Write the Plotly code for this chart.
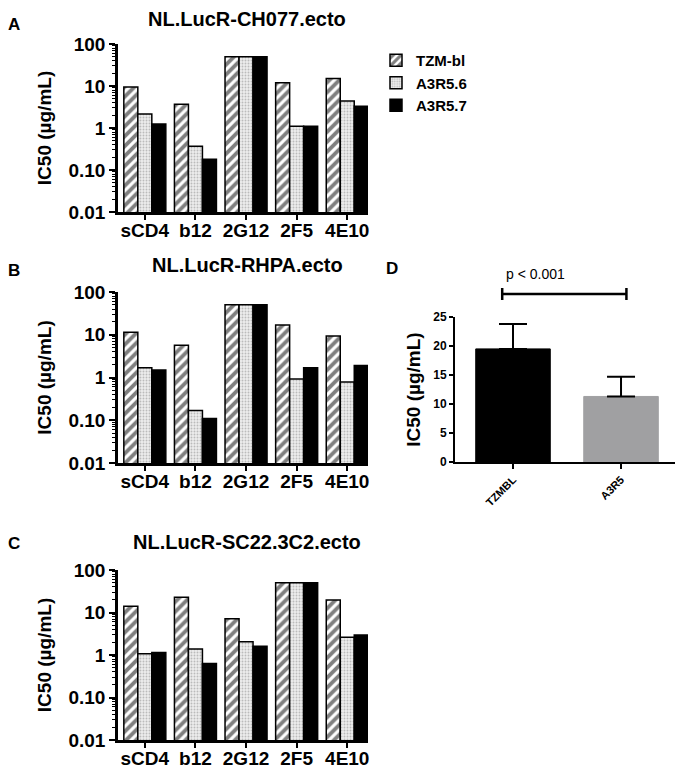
import plotly.graph_objects as go

W, H = 683, 770
OFF = 8  # page body margin in the browser

antibodies = ["sCD4", "b12", "2G12", "2F5", "4E10"]
series = ["TZM-bl", "A3R5.6", "A3R5.7"]

ch077_tzm = [9.5, 3.7, 50, 12, 15]
ch077_a56 = [2.15, 0.37, 50, 1.1, 4.4]
ch077_a57 = [1.25, 0.18, 50, 1.1, 3.3]

rhpa_tzm = [11.5, 5.7, 50, 17, 9.4]
rhpa_a56 = [1.7, 0.17, 50, 0.92, 0.78]
rhpa_a57 = [1.5, 0.11, 50, 1.7, 1.9]

sc22_tzm = [14, 23, 7.1, 50, 19.6]
sc22_a56 = [1.07, 1.38, 2.06, 50, 2.6]
sc22_a57 = [1.15, 0.63, 1.6, 50, 2.95]

log_tickvals = [0.01, 0.1, 1, 10, 100]
log_ticktext = ["0.01", "0.10", "1", "10", "100"]
minor_vals = [k * 10.0 ** e for e in (-2, -1, 0, 1) for k in range(2, 10)]

d_cells = ["TZMBL", "A3R5"]
d_mean = [19.5, 11.3]
d_err = [4.3, 3.4]
d_colors = ["#000000", "#a0a0a2"]

panel_titles = ["NL.LucR-CH077.ecto", "NL.LucR-RHPA.ecto", "NL.LucR-SC22.3C2.ecto"]
panel_letters = ["A", "B", "C", "D"]


def px_x(p):
    return (p - OFF) / W


def px_y(p):
    return 1 - (p - OFF) / H


styles = [
    dict(color="white", pattern=dict(shape="/", fgcolor="black", bgcolor="white", size=7, solidity=0.55)),
    dict(color="#e6e6e6", pattern=dict(shape=".", fgcolor="#8a8a8a", bgcolor="#ececec", size=3, solidity=0.3)),
    dict(color="black"),
]

fig = go.Figure()
panels = [
    (ch077_tzm, ch077_a56, ch077_a57),
    (rhpa_tzm, rhpa_a56, rhpa_a57),
    (sc22_tzm, sc22_a56, sc22_a57),
]
panel_px = [(44, 212), (292, 463), (570, 740)]
title_px = [19, 265, 542]
letter_px = [25, 270, 543]

font_main = "Liberation Sans, Arial, sans-serif"

for i, vals in enumerate(panels):
    ax = "" if i == 0 else str(i + 1)
    for j, v in enumerate(vals):
        fig.add_trace(go.Bar(
            x=antibodies, y=v, name=series[j],
            xaxis="x" + ax, yaxis="y" + ax,
            marker=dict(line=dict(color="black", width=1.5), **styles[j]),
            showlegend=(i == 0),
        ))
    top, bot = panel_px[i]
    fig.update_layout(**{
        "xaxis" + ax: dict(
            domain=[px_x(118), px_x(368)], anchor="y" + ax, range=[-0.53, 4.41],
            showline=True, linecolor="black", linewidth=2.5, ticks="outside",
            ticklen=5, tickwidth=2, tickcolor="black", ticklabelstandoff=-6,
            tickfont=dict(size=19, family=font_main, color="black", weight="bold"),
            showgrid=False, zeroline=False, automargin=False,
        ),
        "yaxis" + ax: dict(
            domain=[px_y(bot), px_y(top)], anchor="x" + ax, type="log", range=[-2, 2],
            tickmode="array", tickvals=log_tickvals, ticktext=log_ticktext,
            showline=True, linecolor="black", linewidth=2.5, ticks="outside",
            ticklen=6, tickwidth=2, tickcolor="black",
            minor=dict(ticks="outside", ticklen=3, tickwidth=1, tickcolor="black",
                       tickmode="array", tickvals=minor_vals, showgrid=False),
            tickfont=dict(size=19, family=font_main, color="black", weight="bold"),
            showgrid=False, zeroline=False, automargin=False,
            title=dict(text="IC50 (µg/mL)", standoff=12,
                       font=dict(size=19, family=font_main, color="black", weight="bold")),
        ),
    })
    fig.add_annotation(text="<b>%s</b>" % panel_titles[i], x=px_x(247), y=px_y(title_px[i]),
                       xref="paper", yref="paper", showarrow=False,
                       font=dict(size=20, family=font_main, color="black"), xanchor="center", yanchor="middle")
    fig.add_annotation(text="<b>%s</b>" % panel_letters[i], x=px_x(14), y=px_y(letter_px[i]),
                       xref="paper", yref="paper", showarrow=False,
                       font=dict(size=17, family=font_main, color="black"), xanchor="center", yanchor="middle")

# Panel D
fig.add_trace(go.Bar(
    x=d_cells, y=d_mean, xaxis="x4", yaxis="y4", showlegend=False,
    marker=dict(color=d_colors, line=dict(color=d_colors, width=1)),
    width=0.69,
    error_y=dict(type="data", symmetric=False, array=d_err, arrayminus=[0, 0],
                 color="black", thickness=2, width=14),
))
fig.update_layout(
    xaxis4=dict(domain=[px_x(455), px_x(676)], anchor="y4", range=[-0.537, 1.509],
                showline=True, linecolor="black", linewidth=2, ticks="outside", ticklen=5,
                tickwidth=2, tickcolor="black", tickangle=-45,
                tickfont=dict(size=11, family=font_main, color="black", weight="bold"),
                showgrid=False, zeroline=False, automargin=False),
    yaxis4=dict(domain=[px_y(462), px_y(317)], anchor="x4", range=[0, 25], dtick=5,
                showline=True, linecolor="black", linewidth=2, ticks="outside", ticklen=4,
                tickwidth=2, tickcolor="black",
                tickfont=dict(size=12, family=font_main, color="black", weight="bold"),
                showgrid=False, zeroline=False, automargin=False,
                title=dict(text="IC50 (µg/mL)", standoff=8,
                           font=dict(size=19, family=font_main, color="black", weight="bold"))),
)
fig.add_annotation(text="<b>D</b>", x=px_x(392), y=px_y(268), xref="paper", yref="paper",
                   showarrow=False, font=dict(size=17, family=font_main, color="black"))
fig.add_annotation(text="p < 0.001", x=px_x(567), y=px_y(274), xref="paper", yref="paper",
                   showarrow=False, font=dict(size=14, family=font_main, color="black"))
bx0, bx1 = -0.1, 1.05
by = px_y(294)
fig.add_shape(type="line", xref="x4", yref="paper", x0=bx0, x1=bx1, y0=by, y1=by,
              line=dict(color="black", width=2.5))
for bx in (bx0, bx1):
    fig.add_shape(type="line", xref="x4", yref="paper", x0=bx, x1=bx,
                  y0=px_y(288), y1=px_y(300), line=dict(color="black", width=2.5))

fig.update_layout(
    width=W, height=H, margin=dict(l=0, r=0, t=0, b=0, autoexpand=False),
    paper_bgcolor="white", plot_bgcolor="white",
    barmode="group", bargap=0.17, bargroupgap=0,
    legend=dict(x=px_x(376), y=px_y(44), xanchor="left", yanchor="top",
                font=dict(size=15, family=font_main, color="black", weight="bold"),
                bgcolor="rgba(0,0,0,0)", tracegroupgap=0, itemwidth=30),
    font=dict(family=font_main, color="black"),
)

fig.write_html("out.html")
